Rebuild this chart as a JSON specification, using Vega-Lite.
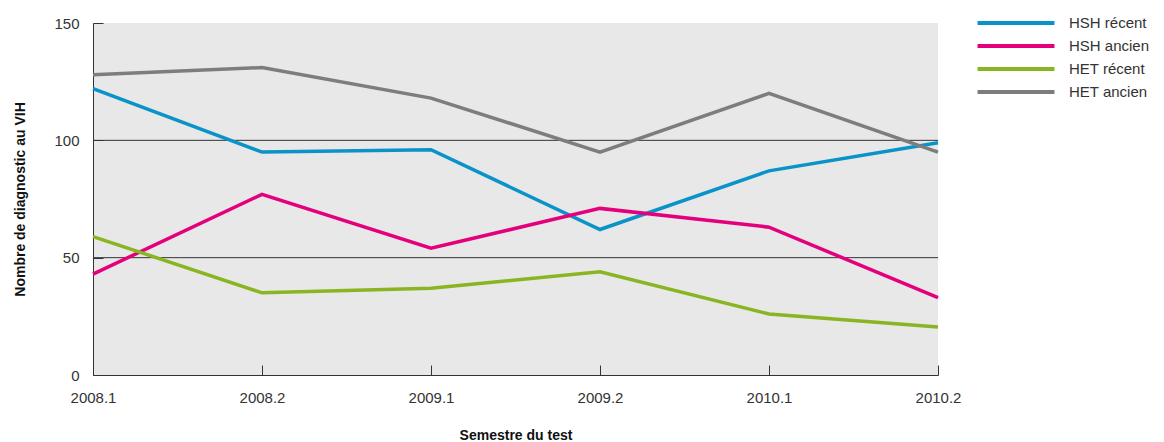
{
  "$schema": "https://vega.github.io/schema/vega-lite/v6.json",
  "width": 845,
  "height": 352,
  "autosize": {"type": "none"},
  "padding": {"left": 93, "top": 23, "right": 226, "bottom": 67},
  "background": "white",
  "config": {
    "view": {"fill": "#e8e8e8", "stroke": null},
    "font": "Liberation Sans"
  },
  "datasets": {
    "series": [
      {"semestre": "2008.1", "groupe": "HSH récent", "n": 122},
      {"semestre": "2008.2", "groupe": "HSH récent", "n": 95},
      {"semestre": "2009.1", "groupe": "HSH récent", "n": 96},
      {"semestre": "2009.2", "groupe": "HSH récent", "n": 62},
      {"semestre": "2010.1", "groupe": "HSH récent", "n": 87},
      {"semestre": "2010.2", "groupe": "HSH récent", "n": 99},
      {"semestre": "2008.1", "groupe": "HSH ancien", "n": 43},
      {"semestre": "2008.2", "groupe": "HSH ancien", "n": 77},
      {"semestre": "2009.1", "groupe": "HSH ancien", "n": 54},
      {"semestre": "2009.2", "groupe": "HSH ancien", "n": 71},
      {"semestre": "2010.1", "groupe": "HSH ancien", "n": 63},
      {"semestre": "2010.2", "groupe": "HSH ancien", "n": 33},
      {"semestre": "2008.1", "groupe": "HET récent", "n": 59},
      {"semestre": "2008.2", "groupe": "HET récent", "n": 35},
      {"semestre": "2009.1", "groupe": "HET récent", "n": 37},
      {"semestre": "2009.2", "groupe": "HET récent", "n": 44},
      {"semestre": "2010.1", "groupe": "HET récent", "n": 26},
      {"semestre": "2010.2", "groupe": "HET récent", "n": 20.5},
      {"semestre": "2008.1", "groupe": "HET ancien", "n": 128},
      {"semestre": "2008.2", "groupe": "HET ancien", "n": 131},
      {"semestre": "2009.1", "groupe": "HET ancien", "n": 118},
      {"semestre": "2009.2", "groupe": "HET ancien", "n": 95},
      {"semestre": "2010.1", "groupe": "HET ancien", "n": 120},
      {"semestre": "2010.2", "groupe": "HET ancien", "n": 95}
    ],
    "grid": [{"v": 50}, {"v": 100}]
  },
  "layer": [
    {
      "data": {"name": "grid"},
      "mark": {"type": "rule", "color": "#333333", "strokeWidth": 1},
      "encoding": {
        "y": {"field": "v", "type": "quantitative", "scale": {"domain": [0, 150]}}
      }
    },
    {
      "data": {"name": "series"},
      "mark": {"type": "line", "strokeWidth": 3.5},
      "encoding": {
        "x": {
          "field": "semestre", "type": "ordinal",
          "scale": {"type": "point", "padding": 0},
          "axis": {
            "title": "Semestre du test", "titleFontWeight": "bold", "titleFontSize": 14,
            "titleColor": "#111", "titlePadding": 23,
            "labelAngle": 0, "labelFontSize": 15, "labelColor": "#333",
            "tickSize": -10, "tickColor": "#333", "domainColor": "#333",
            "labelPadding": 25
          }
        },
        "y": {
          "field": "n", "type": "quantitative",
          "scale": {"domain": [0, 150]},
          "axis": {
            "title": "Nombre de diagnostic au VIH", "titleFontWeight": "bold", "titleFontSize": 14,
            "titleColor": "#111", "titlePadding": 26,
            "values": [0, 50, 100, 150], "grid": false,
            "labelFontSize": 15, "labelColor": "#333",
            "tickSize": -10, "tickColor": "#333", "domainColor": "#333",
            "labelPadding": 24
          }
        },
        "color": {
          "field": "groupe", "type": "nominal",
          "scale": {
            "domain": ["HSH récent", "HSH ancien", "HET récent", "HET ancien"],
            "range": ["#0a93c8", "#e4007c", "#8ab523", "#7d7d7d"]
          },
          "legend": {
            "title": null, "orient": "none", "legendX": 911, "legendY": -12,
            "symbolType": "M-4,0H4", "symbolSize": 370, "symbolStrokeWidth": 4,
            "labelFontSize": 15, "labelColor": "#333", "rowPadding": 3, "labelOffset": 41
          }
        }
      }
    }
  ]
}
